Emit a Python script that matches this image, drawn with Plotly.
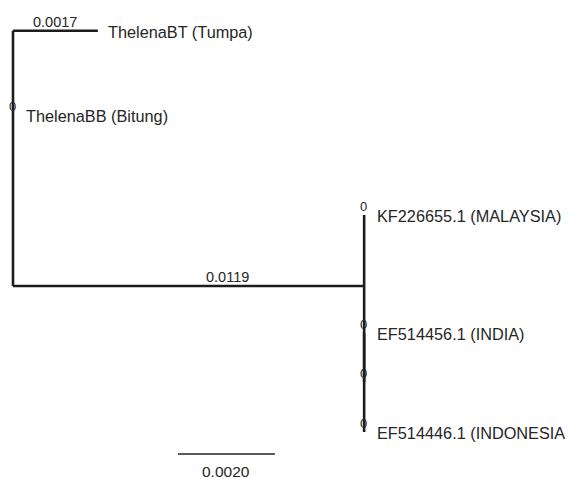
import plotly.graph_objects as go

# ---- tree data ----
node_names   = ["root", "ThelenaBT (Tumpa)", "ThelenaBB (Bitung)", "cladeC",
                "KF226655.1 (MALAYSIA)", "cladeD", "EF514456.1 (INDIA)", "EF514446.1 (INDONESIA)"]
node_parent  = [None, "root", "root", "root", "cladeC", "cladeC", "cladeD", "cladeD"]
drawn_length = [0.0, 0.00175, 0.0, 0.00724, 0.0, 0.0, 0.0, 0.0]      # as drawn (scale-bar units)
branch_label = [None, "0.0017", "0", "0.0119", "0", "0", "0", "0"]
label_frac   = [None, 0.5, 0.5, 0.61, 0.5, 0.5, 0.5, 0.5]
node_row     = [None, 30.7, 115, 286, 215, 382, 333, 432]            # vertical slot of each node
is_leaf      = [False, True, True, False, True, False, True, True]
scale_len    = 0.0020
scale_start  = 0.0034
scale_text   = "0.0020"

# ---- compute node x from drawn lengths ----
idx = {n: i for i, n in enumerate(node_names)}
node_x = [0.0] * len(node_names)
for i, n in enumerate(node_names):
    p = node_parent[i]
    node_x[i] = 0.0 if p is None else node_x[idx[p]] + drawn_length[i]
root_children = [node_row[i] for i in range(len(node_names)) if node_parent[i] == "root"]
node_row[0] = max(root_children)  # root sits on the main branch

LINE = "#1c1c1c"
TXT = "#262626"
FONT = "Liberation Sans, Arial"
xs, ys = [], []
# horizontal branches
for i, n in enumerate(node_names):
    p = node_parent[i]
    if p is None:
        continue
    px = node_x[idx[p]]
    if drawn_length[i] > 0:
        xs += [px, node_x[i], None]
        ys += [node_row[i], node_row[i], None]
# vertical connectors
for i, n in enumerate(node_names):
    kids = [j for j in range(len(node_names)) if node_parent[j] == n]
    if kids:
        rows = [node_row[j] for j in kids] + [node_row[i]]
        xs += [node_x[i], node_x[i], None]
        ys += [min(rows), max(rows), None]

fig = go.Figure()
fig.add_trace(go.Scatter(x=xs, y=ys, mode="lines",
                         line=dict(color=LINE, width=2.6), hoverinfo="skip"))
# scale bar
sb_y = 454
fig.add_trace(go.Scatter(x=[scale_start, scale_start + scale_len], y=[sb_y, sb_y], mode="lines",
                         line=dict(color="#5a5a5a", width=2), hoverinfo="skip"))

ann = []
for i, n in enumerate(node_names):
    p = node_parent[i]
    if p is None:
        continue
    px = node_x[idx[p]]
    # branch labels
    lx = px + label_frac[i] * drawn_length[i]
    zero = branch_label[i] == "0"
    ann.append(dict(x=lx, y=node_row[i], text=branch_label[i], showarrow=False,
                    xanchor="center", yanchor="middle", borderpad=0,
                    xshift=-1 if zero else 0, yshift=9,
                    font=dict(family=FONT, size=13 if zero else 14.5, color=TXT)))
    if is_leaf[i]:
        ann.append(dict(x=node_x[i], y=node_row[i], text=n, showarrow=False,
                        xanchor="left", yanchor="middle", borderpad=0,
                        xshift=9 if drawn_length[i] > 0 else 12, yshift=-1,
                        font=dict(family=FONT, size=16.3, color=TXT)))
ann.append(dict(x=scale_start + scale_len / 2, y=sb_y, text=scale_text, showarrow=False,
                xanchor="center", yanchor="middle", yshift=-17, borderpad=0,
                font=dict(family=FONT, size=15.5, color=TXT)))

# page has an 8px body margin: the figure is placed at (8, 8)
K = 48500.0
fig.update_layout(
    width=565, height=471, margin=dict(l=0, r=0, t=0, b=0),
    paper_bgcolor="white", plot_bgcolor="white", showlegend=False,
    xaxis=dict(range=[-5 / K, 560 / K], visible=False, fixedrange=True),
    yaxis=dict(range=[479, 8], visible=False, fixedrange=True),
    annotations=ann,
)
fig.write_html("out.html")
